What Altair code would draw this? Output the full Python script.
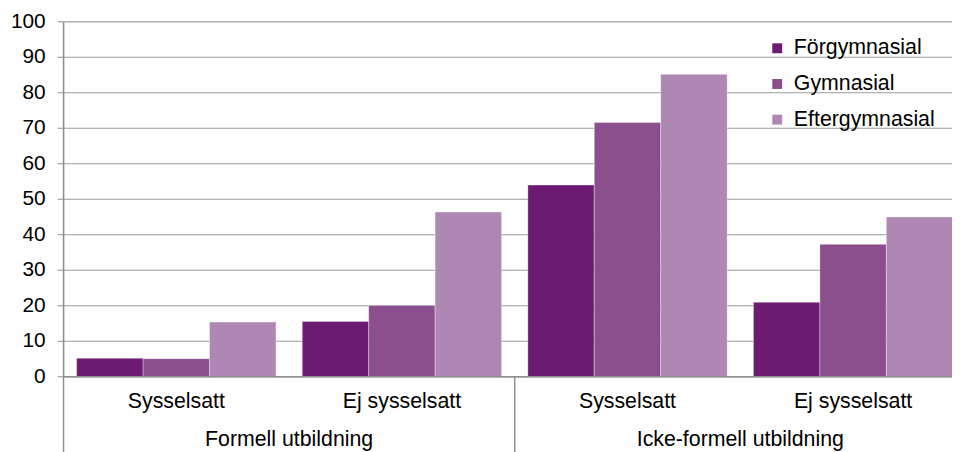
import altair as alt
import pandas as pd

outer = ["Formell utbildning", "Formell utbildning", "Icke-formell utbildning", "Icke-formell utbildning"]
inner = ["Sysselsatt", "Ej sysselsatt", "Sysselsatt", "Ej sysselsatt"]
series = ["Förgymnasial", "Gymnasial", "Eftergymnasial"]
forgymnasial = [5.2, 15.6, 54.0, 21.0]
gymnasial = [5.1, 20.1, 71.6, 37.3]
eftergymnasial = [15.4, 46.4, 85.2, 45.0]
y_ticks = [0, 10, 20, 30, 40, 50, 60, 70, 80, 90, 100]
colors = ["#6D1A73", "#8A4F8C", "#AE87B3"]

keys = [f"{o} | {i}" for o, i in zip(outer, inner)]
outers = list(dict.fromkeys(outer))

rows = []
for s, vals in zip(series, [forgymnasial, gymnasial, eftergymnasial]):
    for k, o, i, v in zip(keys, outer, inner, vals):
        rows.append({"key": k, "outer": o, "inner": i, "series": s, "value": v})
df = pd.DataFrame(rows)
groups_df = pd.DataFrame({"key": keys, "outer": outer, "inner": inner})
outer_df = pd.DataFrame({"outer": outers})
ticks_df = pd.DataFrame({"tick": y_ticks})

W = 910          # full plot width (the right end is cut off by the window)
H = 358
FONT = "Liberation Sans"
GRAY = "#8f8f8f"
FS = 21.5

xscale = alt.Scale(domain=keys, paddingInner=0.1165, paddingOuter=0.0582)
oscale = alt.Scale(domain=outers, paddingInner=0, paddingOuter=0)
yscale = alt.Scale(domain=[0, 100], nice=False)

grid = alt.Chart(ticks_df).mark_rule(color="#9a9a9a", strokeWidth=1).encode(
    y=alt.Y("tick:Q", scale=yscale, axis=None),
)

tickmarks = alt.Chart(ticks_df).mark_rule(color=GRAY, strokeWidth=1).encode(
    y=alt.Y("tick:Q", scale=yscale, axis=None),
    x=alt.value(-6),
    x2=alt.value(0),
)

ticklabels = alt.Chart(ticks_df).mark_text(fontSize=21, font=FONT, color="#000000",
                                            align="right", baseline="middle").encode(
    y=alt.Y("tick:Q", scale=yscale, axis=None),
    x=alt.value(-18),
    text=alt.Text("tick:Q"),
)

bars = alt.Chart(df).mark_bar(stroke="white", strokeOpacity=0.35, strokeWidth=1).encode(
    x=alt.X("key:N", scale=xscale, axis=None),
    xOffset=alt.XOffset("series:N", sort=series,
                        scale=alt.Scale(domain=series, paddingInner=0, paddingOuter=0)),
    y=alt.Y("value:Q", scale=yscale, axis=None),
    color=alt.Color("series:N", sort=series,
                    scale=alt.Scale(domain=series, range=colors),
                    legend=alt.Legend(orient="none", legendX=709, legendY=16, title=None,
                                      symbolType="square", symbolSize=100,
                                      symbolStrokeWidth=0, labelFontSize=FS,
                                      labelFont=FONT, labelColor="#000000",
                                      labelOffset=6, rowPadding=13, padding=0,
                                      labelLimit=400)),
)

zero = alt.Chart(ticks_df).mark_rule(color=GRAY, strokeWidth=1.5).encode(
    y=alt.Y("z:Q", scale=yscale, axis=None)
).transform_filter(alt.datum.tick == 0).transform_calculate(z="datum.tick")

yline = alt.Chart(ticks_df).mark_rule(color=GRAY, strokeWidth=1.5).encode(
    x=alt.value(0),
    y=alt.value(0),
    y2=alt.value(H),
).transform_filter(alt.datum.tick == 0)

seps = alt.Chart(outer_df).mark_rule(color=GRAY, strokeWidth=1.5).encode(
    x=alt.X("outer:N", scale=oscale, bandPosition=0, axis=None),
    y=alt.value(H),
    y2=alt.value(H + 80),
)

tier1 = alt.Chart(groups_df).mark_text(fontSize=FS, font=FONT, color="#000000",
                                        baseline="alphabetic", align="center").encode(
    x=alt.X("key:N", scale=xscale, axis=None),
    y=alt.value(H + 32),
    text="inner:N",
)

tier2 = alt.Chart(outer_df).mark_text(fontSize=FS, font=FONT, color="#000000",
                                       baseline="alphabetic", align="center").encode(
    x=alt.X("outer:N", scale=oscale, bandPosition=0.5, axis=None),
    y=alt.value(H + 70),
    text="outer:N",
)

chart = alt.layer(
    grid, tickmarks, ticklabels, bars, zero, yline, seps, tier1, tier2
).resolve_scale(x="independent").properties(
    width=W,
    height=H,
    autosize=alt.AutoSizeParams(type="none"),
    padding={"left": 56, "top": 12, "right": -14, "bottom": 74},
).configure_view(
    fill="#F0F0F0", stroke=None
).configure(
    font=FONT
)

chart.save("out.html", embed_options={"renderer": "svg", "actions": False})
